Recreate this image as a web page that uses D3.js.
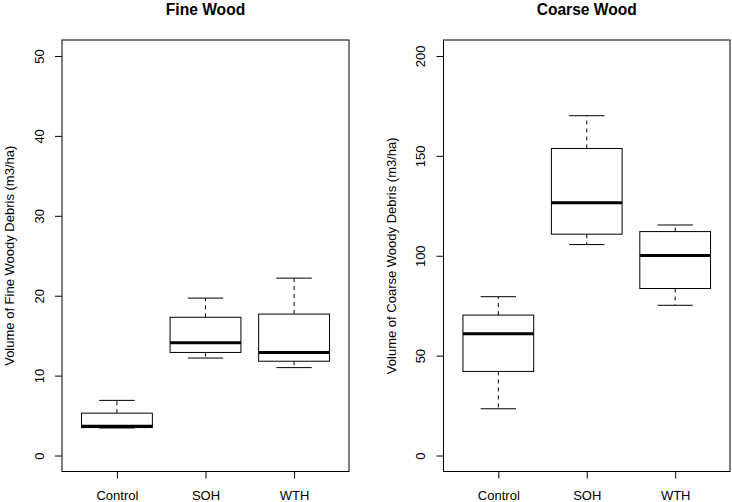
<!DOCTYPE html>
<html>
<head>
<meta charset="utf-8">
<script src="https://cdn.jsdelivr.net/npm/d3@7"></script>
<style>
  body { margin: 0; background: #fff; }
  svg text { font-family: "Liberation Sans", Arial, Helvetica, sans-serif; fill: #000; }
</style>
</head>
<body>
<div id="chart"></div>
<script>
// Data (boxplot five-number summaries)
var groups = ["Control", "SOH", "WTH"];

// [lower whisker, Q1, median, Q3, upper whisker]
var fineStats = [
    [3.45, 3.5, 3.65, 5.3, 6.9],
    [12.2, 12.9, 14.1, 17.3, 19.7],
    [11.0, 11.8, 12.9, 17.7, 22.2]
];
var coarseStats = [
    [23.4, 42.1, 61.0, 70.3, 79.5],
    [105.6, 110.8, 126.5, 153.7, 170.1],
    [75.2, 83.6, 100.1, 112.1, 115.4]
];

var fineTicks = [0, 10, 20, 30, 40, 50];
var coarseTicks = [0, 50, 100, 150, 200];

var width = 732, height = 502;

var svg = d3.select("#chart")
    .append("svg")
    .attr("width", width)
    .attr("height", height);

// one panel: R style boxplot
function drawPanel(opts){
    var x = d3.scaleLinear().domain([0.38, 3.62]).range([opts.left, opts.right]);
    var y = d3.scaleLinear().domain(opts.ydomain).range([471.5, 40]);

    var g = svg.append("g");

    // title
    g.append("text")
        .attr("x", (opts.left + opts.right) / 2)
        .attr("y", 15)
        .attr("text-anchor", "middle")
        .style("font-size", "15.6px")
        .style("font-weight", "bold")
        .text(opts.title);

    // y axis
    var yAxis = d3.axisLeft(y).tickValues(opts.ticks).tickSize(7).tickSizeOuter(0);
    var ya = g.append("g")
        .attr("transform", "translate(" + opts.left + ",0)")
        .call(yAxis);
    ya.select(".domain").remove();
    ya.selectAll("line").attr("stroke", "#000");
    ya.selectAll("text")
        .attr("transform", "rotate(-90)")
        .attr("x", 0)
        .attr("y", -18.5)
        .attr("dy", 0)
        .attr("text-anchor", "middle")
        .style("font-size", "13px")
        .style("font-family", null)
        .attr("font-family", null)
        .attr("font-size", null);

    // x axis
    var xAxis = d3.axisBottom(x).tickValues([1, 2, 3]).tickFormat((d, i) => groups[i]).tickSize(7).tickSizeOuter(0);
    var xa = g.append("g")
        .attr("transform", "translate(0,471.5)")
        .call(xAxis);
    xa.select(".domain").remove();
    xa.selectAll("line").attr("stroke", "#000");
    xa.selectAll("text")
        .attr("y", 28.5)
        .attr("dy", 0)
        .style("font-size", "13px")
        .attr("font-family", null)
        .attr("font-size", null);
    ya.attr("font-family", null).attr("font-size", null);
    xa.attr("font-family", null).attr("font-size", null);

    // y axis label
    g.append("text")
        .attr("transform", "translate(" + (opts.left - 48) + "," + ((40 + 471.5) / 2) + ") rotate(-90)")
        .attr("text-anchor", "middle")
        .style("font-size", "13px")
        .text(opts.ylabel);

    // boxes
    var box = g.selectAll(".box")
        .data(opts.stats)
        .enter()
        .append("g")
        .attr("class", "box");

    var bw = 0.4, cw = 0.2;

    // whiskers (dashed)
    box.append("line")
        .attr("x1", (d, i) => x(i + 1)).attr("x2", (d, i) => x(i + 1))
        .attr("y1", d => y(d[3])).attr("y2", d => y(d[4]))
        .attr("stroke", "#000").attr("stroke-dasharray", "4,4");
    box.append("line")
        .attr("x1", (d, i) => x(i + 1)).attr("x2", (d, i) => x(i + 1))
        .attr("y1", d => y(d[1])).attr("y2", d => y(d[0]))
        .attr("stroke", "#000").attr("stroke-dasharray", "4,4");

    // caps
    box.append("line")
        .attr("x1", (d, i) => x(i + 1 - cw)).attr("x2", (d, i) => x(i + 1 + cw))
        .attr("y1", d => y(d[4])).attr("y2", d => y(d[4]))
        .attr("stroke", "#000");
    box.append("line")
        .attr("x1", (d, i) => x(i + 1 - cw)).attr("x2", (d, i) => x(i + 1 + cw))
        .attr("y1", d => y(d[0])).attr("y2", d => y(d[0]))
        .attr("stroke", "#000");

    // box
    box.append("rect")
        .attr("x", (d, i) => x(i + 1 - bw))
        .attr("width", (d, i) => x(i + 1 + bw) - x(i + 1 - bw))
        .attr("y", d => y(d[3]))
        .attr("height", d => y(d[1]) - y(d[3]))
        .attr("fill", "#fff")
        .attr("stroke", "#000");

    // median
    box.append("line")
        .attr("x1", (d, i) => x(i + 1 - bw)).attr("x2", (d, i) => x(i + 1 + bw))
        .attr("y1", d => y(d[2])).attr("y2", d => y(d[2]))
        .attr("stroke", "#000").attr("stroke-width", 3);

    // frame
    g.append("rect")
        .attr("x", opts.left)
        .attr("y", 40)
        .attr("width", opts.right - opts.left)
        .attr("height", 471.5 - 40)
        .attr("fill", "none")
        .attr("stroke", "#000");
}

drawPanel({
    left: 62, right: 349,
    ydomain: [-2, 52],
    ticks: fineTicks,
    stats: fineStats,
    title: "Fine Wood",
    ylabel: "Volume of Fine Woody Debris (m3/ha)"
});

drawPanel({
    left: 443.5, right: 730,
    ydomain: [-8, 208],
    ticks: coarseTicks,
    stats: coarseStats,
    title: "Coarse Wood",
    ylabel: "Volume of Coarse Woody Debris (m3/ha)"
});
</script>
</body>
</html>
